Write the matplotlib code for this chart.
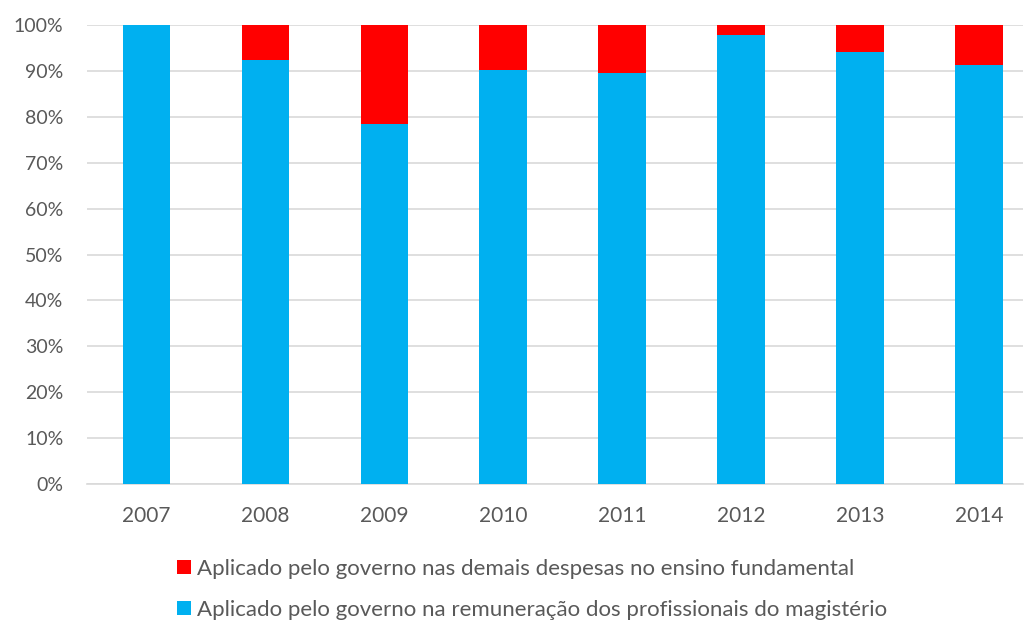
import matplotlib
matplotlib.use("Agg")
import matplotlib.pyplot as plt
from matplotlib.patches import Patch
from matplotlib.ticker import PercentFormatter

plt.rcParams["font.family"] = ["Lato", "DejaVu Sans"]

anos = ["2007", "2008", "2009", "2010", "2011", "2012", "2013", "2014"]
# participação (%) da remuneração do magistério no total aplicado
remuneracao = [100.0, 92.3, 78.4, 90.3, 89.5, 97.9, 94.2, 91.3]
demais = [round(100 - v, 1) for v in remuneracao]

rotulo_demais = "Aplicado pelo governo nas demais despesas no ensino fundamental"
rotulo_remun = "Aplicado pelo governo na remuneração dos profissionais do magistério"

AZUL = "#00B0F0"
VERMELHO = "#FF0000"
CINZA_TXT = "#595959"
CINZA_GRADE = "#D9D9D9"

fig = plt.figure(figsize=(10.25, 6.24), dpi=100)
ax = fig.add_axes([87 / 1025, 1 - 484 / 624, 936 / 1025, 459 / 624])

x = range(len(anos))
ax.bar(x, remuneracao, width=0.4, color=AZUL, zorder=3)
ax.bar(x, demais, width=0.4, bottom=remuneracao, color=VERMELHO, zorder=3)

ax.set_xlim(-0.5, 7.37)
ax.set_ylim(0, 100)
ax.set_yticks(range(0, 101, 10))
ax.yaxis.set_major_formatter(PercentFormatter(decimals=0))
ax.set_xticks(list(x))
ax.set_xticklabels(anos)

ax.grid(axis="y", color=CINZA_GRADE, lw=1.2, zorder=0)
for s in ["top", "right", "left"]:
    ax.spines[s].set_visible(False)
ax.spines["bottom"].set_color(CINZA_GRADE)
ax.spines["bottom"].set_linewidth(1.2)
ax.tick_params(axis="both", length=0, colors=CINZA_TXT)
ax.tick_params(axis="x", labelsize=15, pad=16)
ax.tick_params(axis="y", labelsize=14, pad=17)

handles = [Patch(facecolor=VERMELHO), Patch(facecolor=AZUL)]
fig.legend(handles, [rotulo_demais, rotulo_remun],
           loc="upper left", bbox_to_anchor=(177 / 1025, 1 - 559 / 624),
           frameon=False, fontsize=16, labelcolor=CINZA_TXT,
           handlelength=0.63, handleheight=0.63, handletextpad=0.27,
           labelspacing=0.93, borderpad=0, borderaxespad=0)

fig.savefig("out.png", dpi=100)
